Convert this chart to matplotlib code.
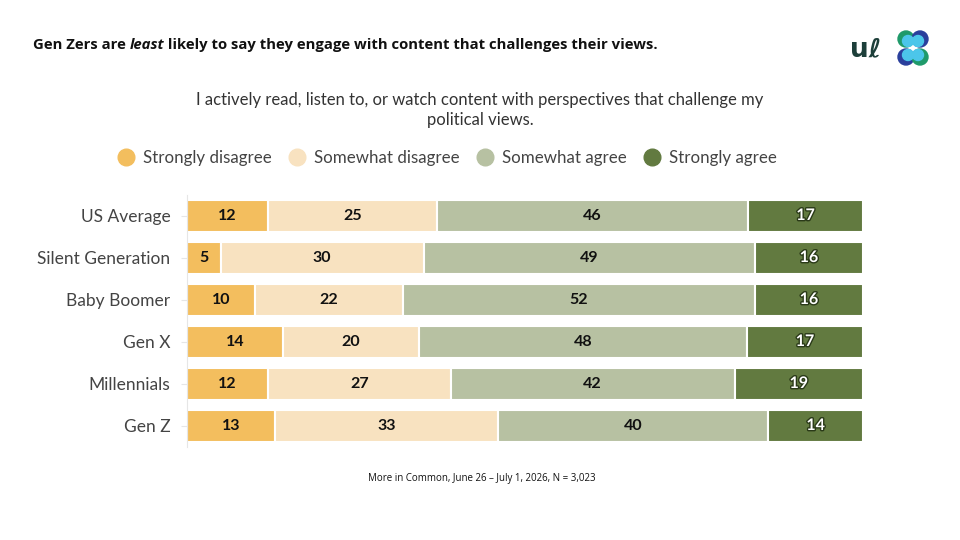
import numpy as np
import matplotlib
matplotlib.use("Agg")
import matplotlib.pyplot as plt
import matplotlib.patheffects as pe
from matplotlib.lines import Line2D
from matplotlib.patches import Circle

plt.rcParams["font.family"] = ["Lato", "DejaVu Sans"]

groups = ["US Average", "Silent Generation", "Baby Boomer", "Gen X", "Millennials", "Gen Z"]
strongly_disagree = [12, 5, 10, 14, 12, 13]
somewhat_disagree = [25, 30, 22, 20, 27, 33]
somewhat_agree = [46, 49, 52, 48, 42, 40]
strongly_agree = [17, 16, 16, 17, 19, 14]
series_names = ["Strongly disagree", "Somewhat disagree", "Somewhat agree", "Strongly agree"]
colors = ["#F3BE5E", "#F8E2C0", "#B7C1A2", "#627A40"]

vals = np.array([strongly_disagree, somewhat_disagree, somewhat_agree, strongly_agree], float)
shares = vals / vals.sum(axis=0) * 100   # rows that round to 99 still fill the bar

fig = plt.figure(figsize=(9.6, 5.4), dpi=100)
ax = fig.add_axes([187 / 960, 1 - 447 / 540, 676 / 960, 252 / 540])

y = np.arange(len(groups))
left = np.zeros(len(groups))
for i, (name, col) in enumerate(zip(series_names, colors)):
    ax.barh(y, shares[i], left=left, height=0.76, color=col, edgecolor="white", linewidth=1.5)
    for yy, l, w, v in zip(y, left, shares[i], vals[i]):
        if i == 3:
            ax.text(l + w / 2, yy, f"{int(v)}", ha="center", va="center", fontsize=11.5,
                    fontweight="bold", color="white",
                    path_effects=[pe.withStroke(linewidth=2, foreground="#2a3a18")])
        else:
            ax.text(l + w / 2, yy, f"{int(v)}", ha="center", va="center", fontsize=11.5,
                    fontweight="bold", color="#111111")
    left += shares[i]

ax.set_xlim(0, 100)
ax.set_ylim(len(groups) - 0.5, -0.5)
ax.set_yticks(y, groups)
ax.set_xticks([])
for s in ["top", "right", "bottom"]:
    ax.spines[s].set_visible(False)
ax.spines["left"].set_color("#e6e6e6")
ax.tick_params(axis="y", length=4, color="#e6e6e6", labelsize=12.5, labelcolor="#444444", pad=8)

# title with italic word
fig.canvas.draw()
r = fig.canvas.get_renderer()
x0 = 33 / 960
ty = 1 - 45 / 540
tkw = dict(fontsize=10.7, fontweight="bold", color="#111111", va="center",
           family=["Open Sans", "DejaVu Sans"])
for part, style in [("Gen Zers are ", "normal"), ("least", "italic"),
                    (" likely to say they engage with content that challenges their views.", "normal")]:
    t = fig.text(x0, ty, part, style=style, **tkw)
    bb = t.get_window_extent(renderer=r)
    x0 += bb.width / 960

fig.text(0.5, 1 - 100 / 540, "I actively read, listen to, or watch content with perspectives that challenge my",
         ha="center", va="center", fontsize=12, color="#333333")
fig.text(0.5, 1 - 120 / 540, "political views.", ha="center", va="center", fontsize=12, color="#333333")

handles = [Line2D([], [], marker="o", ls="none", ms=12, color=c, label=n)
           for n, c in zip(series_names, colors)]
fig.legend(handles=handles, loc="center", bbox_to_anchor=(443 / 960, 1 - 158 / 540), ncol=4,
           frameon=False, fontsize=12.2, handletextpad=0.0, columnspacing=0.5,
           labelcolor="#444444", borderaxespad=0)

fig.text(482 / 960, 1 - 479 / 540, "More in Common, June 26 \u2013 July 1, 2026, N = 3,023",
         ha="center", va="center", fontsize=7, color="#111111",
         family=["Open Sans", "DejaVu Sans"])

# logo
lax = fig.add_axes([850 / 960, 1 - 68 / 540, 90 / 960, 40 / 540])
lax.set_xlim(0, 90)
lax.set_ylim(0, 40)
lax.set_aspect("equal")
lax.axis("off")
lax.text(16, 19, "u\u2113", fontsize=19, color="#1d3f3a", ha="center", va="center",
         fontweight="bold", family=["DejaVu Sans"])
for (cx, cy, c) in [(56, 29, "#1f9a6a"), (70, 29, "#2a3f9c"), (56, 11, "#2a3f9c"), (70, 11, "#1f9a6a")]:
    lax.add_patch(Circle((cx, cy), 8, color=c))
for (cx, cy) in [(58, 27), (68, 27), (58, 13), (68, 13)]:
    lax.add_patch(Circle((cx, cy), 5.5, color="#4cc6ea"))

fig.savefig("out.png", dpi=100, facecolor="white")
